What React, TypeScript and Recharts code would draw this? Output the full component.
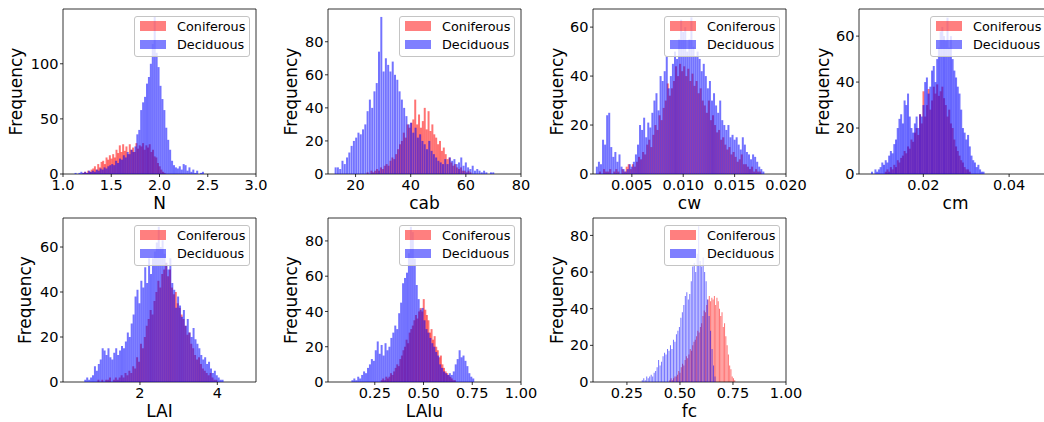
import React from 'react';
import { BarChart, Bar, XAxis, YAxis, Legend, ReferenceArea } from 'recharts';

const FONT = '"DejaVu Sans", sans-serif';

// ---------- data (histogram counts, bins spread evenly over each range) ----------
const nConiferousRange: [number, number] = [1.2, 2.06];
const nConiferous = [1,2,1,3,2,4, 5,7,4,9,6,11, 12,9,15,13,17,14, 18,15,22,19,26,20, 27,21,25,18,27,22, 24,20,28,23,26,25, 28,22,26,24,27,20, 22,16,15,10,7,4, 2,1];
const nDeciduousRange: [number, number] = [1.12, 2.46];
const nDeciduous = [1,0,1,2,1,2,1,3,2, 3,2,4,3,5,4,6,5,7,8, 9,8,12,10,14,13,17,15,20,18, 22,20,25, 36,40,58,65,70,82,88, 100,118,143,110,97, 80,68,58,42,31, 22,12,8,6,5, 7,4,9,8,3, 6,2,4,1,3,0,1,2];

const cabConiferousRange: [number, number] = [24, 62];
const cabConiferous = [1,0,2,1,2,3,2,4, 3,5,6,5,8,10,9, 12,15,18,20,25,22, 30,28,31,33,45, 30,36,28,32,40, 27,38,26,30,24, 22,18,20,14,16, 12,9,10,7,5, 6,4,3,4,2, 2,1,2,1];
const cabDeciduousRange: [number, number] = [12.4, 70.4];
const cabDeciduous = [4,4,3, 8,6,10, 13,17,20, 22,25,24, 27,30,38, 45,40,50, 55,74,95, 62,70,66, 62,68,60, 57,50,45, 40,35,30, 31,25,28, 22,24,20, 18,15,20, 14,12,10, 8,7,6, 9,6,10, 8,9,6, 7,10,5, 7,4,3, 5,2,3, 2,1,2, 1,0,1, 1];

const cwConiferousRange: [number, number] = [0.0018, 0.0176];
const cwConiferous = [1,0,2,1,1,2,0,1,2,1,0,2,1,3,4,2, 4,3,5,7,6, 9,8,12,14,11, 16,20,18,24,22, 27,30,37,32,35, 38,44,40,45,42, 44,40,43,38,41, 36,38,33,35,30, 28,25,30,22,24, 20,17,18,14,15, 12,10,11,8,9, 7,5,6,8,4, 4,3,2,3,1,2,1,1];
const cwDeciduousRange: [number, number] = [0.0015, 0.0179];
const cwDeciduous = [3,5,4, 14,12,24,25,11, 7,9,5,8,3, 2,1,2,4,3, 5,8,12,20,18, 23,15,21,19,25, 30,33,26,40,38, 42,48,35,40,45, 50,47,55,63,58, 60,50,55,64,52, 48,50,47,42,45, 40,35,38,30,33, 28,25,30,22,20, 18,20,15,16,14, 15,12,10,15,12, 9,8,6,8,7, 5,3,2,1];

const cmConiferousRange: [number, number] = [0.011, 0.031];
const cmConiferous = [1,2,1,3,2, 4,3,6,5,7, 8,10,9,12,11, 15,14,18,20,17, 26,22,36,25,30, 37,28,32,38,35, 39,34,36,38,33, 30,25,28,22,20, 15,12,10,8,6, 5,3,2,2,1];
const cmDeciduousRange: [number, number] = [0.0078, 0.0342];
const cmDeciduous = [1,0,2,1,2, 3,5,4,6,5, 8,10,9,13,15, 20,24,26,22,32, 30,35,25,20,18, 22,25,20,26,25, 30,40,42,35,38, 45,47,40,50,55, 62,64,60,58,68, 55,60,50,45,42, 38,35,28,20,18, 15,17,12,8,6, 5,3,4,2,1, 1];

const laiConiferousRange: [number, number] = [0.9, 4.0];
const laiConiferous = [1,0,1,0,1, 1,2,0,1,2, 1,2,3,2,4, 3,5,4,7,6, 11,9,17,15,20, 25,28,32,30,36, 40,45,42,48,50, 53,47,50,42,39, 40,35,33,30,28, 25,21,22,17,15, 12,10,11,8,6, 5,4,3,4,2, 1,1];
const laiDeciduousRange: [number, number] = [0.56, 4.16];
const laiDeciduous = [1,2,1,2,3, 7,5,8,10,15, 14,12,15,11,10, 13,15,12,14,16, 15,18,22,20,26, 30,38,41,35,45, 42,51,44,55,48, 55,58,62,69,60, 63,57,53,50,55, 44,41,33,38,34, 29,32,25,28,22, 20,24,19,17,15, 12,10,11,8,9, 6,4,5,3,2, 1,1];

const laiuConiferousRange: [number, number] = [0.28, 0.664];
const laiuConiferous = [1,2,1,3,2, 3,5,4,6,8, 10,9,13,15,18, 20,24,22,28,30, 32,35,38,36,40, 42,40,47,41,38, 35,28,30,24,26, 20,18,14,15,10, 8,6,5,4,3, 2,1,1];
const laiuDeciduousRange: [number, number] = [0.13, 0.76];
const laiuDeciduous = [1,2,1,3,2, 4,6,5,8,10, 13,12,18,23,16, 21,15,22,18,20, 25,28,32,30,39, 45,56,59,62,73, 88,85,70,55,47, 41,42,35,30,28, 25,22,20,17,15, 10,8,6,5,4, 5,4,6,10,13, 18,14,15,12,9, 5,3,2];

const fcConiferousRange: [number, number] = [0.45, 0.762];
const fcConiferous = [1,2,1,2,3, 3,4,6,5,8, 10,9,12,14,13, 15,18,17,20,22, 23,25,28,27,30, 32,36,39,38,42, 45,47,44,46,45, 47,42,46,44,40, 36,38,30,32,25, 20,15,9,7,3, 2,1];
const fcDeciduousRange: [number, number] = [0.32, 0.67];
const fcDeciduous = [1,2,1,3,2, 3,4,3,5,6, 8,12,9,11,14, 16,15,18,17,20, 18,23,22,26,28, 30,35,38,42,47, 49,45,48,55,63, 65,60,70,85,66, 63,68,60,55,45, 36,28,18,9,3];

// ---------- axes ----------
const nXTicks = [1.0, 1.5, 2.0, 2.5, 3.0];
const cabXTicks = [20, 40, 60, 80];
const cwXTicks = [0.005, 0.01, 0.015, 0.02];
const cmXTicks = [0.02, 0.04];
const laiXTicks = [2, 4];
const laiuXTicks = [0.25, 0.5, 0.75, 1.0];
const fcXTicks = [0.25, 0.5, 0.75, 1.0];

const nYTicks = [0, 50, 100];
const cabYTicks = [0, 20, 40, 60, 80];
const cwYTicks = [0, 20, 40, 60];
const cmYTicks = [0, 20, 40, 60];
const laiYTicks = [0, 20, 40, 60];
const laiuYTicks = [0, 20, 40, 60, 80];
const fcYTicks = [0, 20, 40, 60, 80];

const legendNames = ['Coniferous', 'Deciduous'];
const legendColors = ['rgba(255,0,0,0.5)', 'rgba(0,0,255,0.5)'];

type Hist = { range: [number, number]; counts: number[] };
type PanelDef = {
  name: string;
  con: Hist;
  dec: Hist;
  xDomain: [number, number];
  xTicks: number[];
  xFmt: (v: number) => string;
  yMax: number;
  yTicks: number[];
};

const panels: PanelDef[] = [
  { name: 'N', con: { range: nConiferousRange, counts: nConiferous }, dec: { range: nDeciduousRange, counts: nDeciduous }, xDomain: [1.0, 3.0], xTicks: nXTicks, xFmt: (v) => v.toFixed(1), yMax: 149.7, yTicks: nYTicks },
  { name: 'cab', con: { range: cabConiferousRange, counts: cabConiferous }, dec: { range: cabDeciduousRange, counts: cabDeciduous }, xDomain: [10, 80], xTicks: cabXTicks, xFmt: (v) => String(v), yMax: 99.8, yTicks: cabYTicks },
  { name: 'cw', con: { range: cwConiferousRange, counts: cwConiferous }, dec: { range: cwDeciduousRange, counts: cwDeciduous }, xDomain: [0.00122, 0.02], xTicks: cwXTicks, xFmt: (v) => v.toFixed(3), yMax: 67.4, yTicks: cwYTicks },
  { name: 'cm', con: { range: cmConiferousRange, counts: cmConiferous }, dec: { range: cmDeciduousRange, counts: cmDeciduous }, xDomain: [0.005, 0.05], xTicks: cmXTicks, xFmt: (v) => v.toFixed(2), yMax: 71.8, yTicks: cmYTicks },
  { name: 'LAI', con: { range: laiConiferousRange, counts: laiConiferous }, dec: { range: laiDeciduousRange, counts: laiDeciduous }, xDomain: [0.01, 5.0], xTicks: laiXTicks, xFmt: (v) => String(v), yMax: 72.9, yTicks: laiYTicks },
  { name: 'LAIu', con: { range: laiuConiferousRange, counts: laiuConiferous }, dec: { range: laiuDeciduousRange, counts: laiuDeciduous }, xDomain: [0.01, 1.0], xTicks: laiuXTicks, xFmt: (v) => v.toFixed(2), yMax: 93, yTicks: laiuYTicks },
  { name: 'fc', con: { range: fcConiferousRange, counts: fcConiferous }, dec: { range: fcDeciduousRange, counts: fcDeciduous }, xDomain: [0.09, 1.0], xTicks: fcXTicks, xFmt: (v) => v.toFixed(2), yMax: 89.5, yTicks: fcYTicks },
];

// ---------- layout ----------
const positions = [
  { left: 63, top: 9, h: 165, gap: 41 },
  { left: 328, top: 9, h: 165, gap: 31 },
  { left: 593, top: 9, h: 165, gap: 30.5 },
  { left: 859, top: 9, h: 165, gap: 30 },
  { left: 63, top: 218, h: 164, gap: 32 },
  { left: 328, top: 218, h: 164, gap: 31 },
  { left: 593, top: 218, h: 164, gap: 30.5 },
];

const YW = 60;
const XH = 45;
const PW = 193;
const MT = 10;
const MR = 30;
const BAR_OPACITY = 0.55;

const toRows = (h: Hist) => {
  const w = (h.range[1] - h.range[0]) / h.counts.length;
  return h.counts.map((c, i) => ({ x: h.range[0] + (i + 0.5) * w, v: c }));
};

function FreqLabel(props: any) {
  const vb = props.viewBox || { x: 0, y: 0, width: 0, height: 0 };
  const x = vb.x + vb.width - props.gap;
  const y = vb.y + vb.height / 2;
  return (
    <text x={x} y={y} transform={`rotate(-90, ${x}, ${y})`} textAnchor="middle" fill="#000" fontSize={17} fontFamily={FONT}>
      {props.text}
    </text>
  );
}

function LegendBox() {
  return (
    <div
      style={{
        position: 'relative',
        width: 116,
        height: 41.5,
        boxSizing: 'border-box',
        border: '1px solid #c4c4c4',
        borderRadius: 3,
        background: 'rgba(255,255,255,0.8)',
        fontFamily: FONT,
        fontSize: 12.8,
        color: '#000',
      }}
    >
      {legendNames.map((n, i) => (
        <div
          key={n}
          style={{ position: 'absolute', left: 5, top: 4.8 + i * 18.4, height: 9.5, display: 'flex', alignItems: 'center', whiteSpace: 'nowrap' }}
        >
          <div style={{ width: 26, height: 9.5, background: legendColors[i] }} />
          <span style={{ marginLeft: 11, lineHeight: '15px' }}>{n}</span>
        </div>
      ))}
    </div>
  );
}

function Panel({ p, pos }: { p: PanelDef; pos: { left: number; top: number; h: number; gap: number } }) {
  const w = YW + PW + MR;
  const h = MT + pos.h + XH;
  const conRows = toRows(p.con);
  const decRows = toRows(p.dec);
  const margin = { top: MT, right: MR, left: 0, bottom: 0 };
  const layer: React.CSSProperties = { position: 'absolute', left: 0, top: 0 };
  return (
    <div style={{ position: 'absolute', left: pos.left - YW, top: pos.top - MT, width: w, height: h }}>
      <div style={layer}>
        <BarChart width={w} height={h} data={conRows} margin={margin} barCategoryGap={0} barGap={0}>
          <XAxis dataKey="x" type="number" domain={p.xDomain} ticks={p.xTicks} allowDataOverflow height={XH} tick={false} tickLine={false} axisLine={false} />
          <YAxis type="number" domain={[0, p.yMax]} ticks={p.yTicks} allowDataOverflow width={YW} tick={false} tickLine={false} axisLine={false} />
          <Bar dataKey="v" fill="#ff0000" fillOpacity={BAR_OPACITY} isAnimationActive={false} />
        </BarChart>
      </div>
      <div style={layer}>
        <BarChart width={w} height={h} data={decRows} margin={margin} barCategoryGap={0} barGap={0}>
          <XAxis
            dataKey="x"
            type="number"
            domain={p.xDomain}
            ticks={p.xTicks}
            allowDataOverflow
            interval={0}
            height={XH}
            tickFormatter={p.xFmt}
            tick={{ fill: '#000', fontSize: 14.5, fontFamily: FONT }}
            tickLine={{ stroke: '#000', strokeWidth: 0.8 }}
            tickSize={3}
            tickMargin={3}
            axisLine={false}
            label={{ value: p.name, position: 'insideBottom', offset: 10, fill: '#000', fontSize: 17, fontFamily: FONT }}
          />
          <YAxis
            type="number"
            domain={[0, p.yMax]}
            ticks={p.yTicks}
            allowDataOverflow
            interval={0}
            width={YW}
            tick={{ fill: '#000', fontSize: 14.5, fontFamily: FONT }}
            tickLine={{ stroke: '#000', strokeWidth: 0.8 }}
            tickSize={3}
            tickMargin={1.5}
            axisLine={false}
            label={<FreqLabel text="Frequency" gap={pos.gap} />}
          />
          <Bar dataKey="v" fill="#0000ff" fillOpacity={BAR_OPACITY} isAnimationActive={false} />
          <ReferenceArea
            x1={p.xDomain[0]}
            x2={p.xDomain[1]}
            y1={0}
            y2={p.yMax}
            fill="none"
            fillOpacity={0}
            stroke="#000"
            strokeWidth={0.8}
            ifOverflow="visible"
          />
          <Legend
            layout="vertical"
            align="center"
            verticalAlign="middle"
            content={<LegendBox />}
            wrapperStyle={{ left: YW + PW - 6 - 116, top: MT + 6.5, width: 116, height: 41.5, right: 'auto', bottom: 'auto' }}
          />
        </BarChart>
      </div>
    </div>
  );
}

export default function App() {
  return (
    <div style={{ position: 'fixed', left: 0, top: 0, width: 1044, height: 422, overflow: 'hidden', background: '#fff' }}>
      {panels.map((p, i) => (
        <Panel key={p.name} p={p} pos={positions[i]} />
      ))}
    </div>
  );
}
